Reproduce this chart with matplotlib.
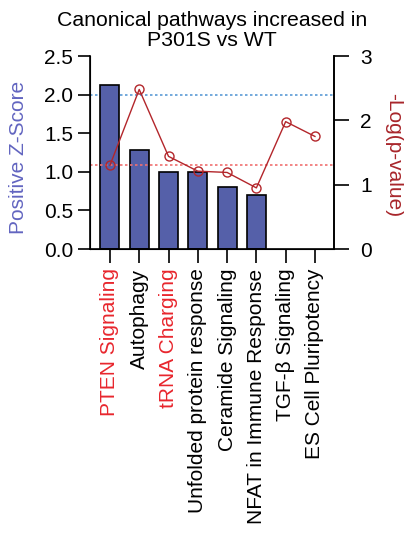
import matplotlib
matplotlib.use("Agg")
import matplotlib.pyplot as plt

plt.rcParams['font.family'] = ['Liberation Sans', 'DejaVu Sans']

categories = ["PTEN Signaling", "Autophagy", "tRNA Charging", "Unfolded protein response",
              "Ceramide Signaling", "NFAT in Immune Response", "TGF-β Signaling", "ES Cell Pluripotency"]
zscore = [2.12, 1.28, 1.0, 1.0, 0.80, 0.70, None, None]
neglogp = [1.30, 2.48, 1.44, 1.21, 1.19, 0.95, 1.98, 1.75]
label_colors = ["#e8262d", "black", "#e8262d", "black", "black", "black", "black", "black"]
z_threshold = 2.0
p_threshold = 1.3

fig = plt.figure(figsize=(4.04, 5.37), dpi=100)
ax = fig.add_axes([0.2228, 0.5363, 0.6039, 0.3594])
x = list(range(len(categories)))
bx = [i for i, v in zip(x, zscore) if v is not None]
bv = [v for v in zscore if v is not None]
ax.bar(bx, bv, width=0.65, color="#5560a9", edgecolor="black", linewidth=1.2, zorder=2)
ax.axhline(z_threshold, color="#5b9bd5", linestyle=(0, (1.5, 1.5)), linewidth=1.2, zorder=1)
ax.set_xlim(-0.68, 7.65)
ax.set_ylim(0, 2.5)
ax.set_yticks([0, 0.5, 1.0, 1.5, 2.0, 2.5])
ax.set_yticklabels(["0.0", "0.5", "1.0", "1.5", "2.0", "2.5"])
ax.set_xticks(x)
ax.set_xticklabels(categories, rotation=90, fontsize=15)
for t, c in zip(ax.get_xticklabels(), label_colors):
    t.set_color(c)
ax.set_ylabel("Positive Z-Score", color="#6265c0", fontsize=15, va='center')
ax.yaxis.set_label_coords(-0.295, 0.477)
ax.tick_params(axis='y', labelsize=15, length=9, width=1.2, direction='out', pad=3)
ax.tick_params(axis='x', length=10, width=1.2, direction='out', pad=4)
ax.spines['top'].set_visible(False)
for s in ['left', 'bottom', 'right']:
    ax.spines[s].set_linewidth(1.2)

ax2 = ax.twinx()
ax2.plot(x, neglogp, color="#b3262b", linewidth=1.0, marker='o', markersize=6.5,
         markerfacecolor='none', markeredgecolor="#b3262b", markeredgewidth=1.0, zorder=3)
ax2.axhline(p_threshold, color="#f07070", linestyle=(0, (1.5, 1.5)), linewidth=1.2, zorder=1)
ax2.set_ylim(0, 3)
ax2.set_yticks([0, 1, 2, 3])
ax2.set_ylabel("-Log(p-value)", color="#a8262b", fontsize=15, rotation=270, va='center')
ax2.yaxis.set_label_coords(1.243, 0.487)
ax2.tick_params(axis='y', labelsize=15, length=11, width=1.2, direction='out', pad=8)
ax2.spines['top'].set_visible(False)
ax2.spines['right'].set_linewidth(1.2)

ax.set_title("Canonical pathways increased in\nP301S vs WT", fontsize=15.3, pad=7, linespacing=1.1)

fig.savefig("out.png", dpi=100)
